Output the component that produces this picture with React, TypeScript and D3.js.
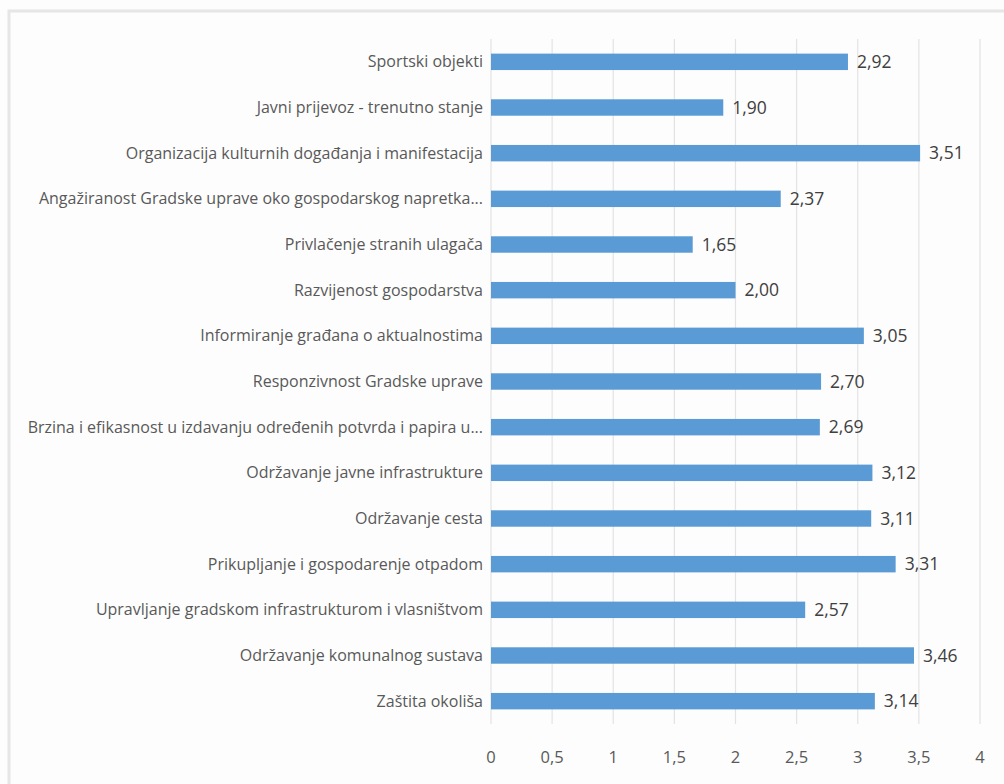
import * as React from "react";
import * as d3 from "d3";

const categories = [
  "Sportski objekti",
  "Javni prijevoz - trenutno stanje",
  "Organizacija kulturnih događanja i manifestacija",
  "Angažiranost Gradske uprave oko gospodarskog napretka...",
  "Privlačenje stranih ulagača",
  "Razvijenost gospodarstva",
  "Informiranje građana o aktualnostima",
  "Responzivnost Gradske uprave",
  "Brzina i efikasnost u izdavanju određenih potvrda i papira u...",
  "Održavanje javne infrastrukture",
  "Održavanje cesta",
  "Prikupljanje i gospodarenje otpadom",
  "Upravljanje gradskom infrastrukturom i vlasništvom",
  "Održavanje komunalnog sustava",
  "Zaštita okoliša",
];
const values = [2.92, 1.9, 3.51, 2.37, 1.65, 2.0, 3.05, 2.7, 2.69, 3.12, 3.11, 3.31, 2.57, 3.46, 3.14];
const xTicks = [0, 0.5, 1, 1.5, 2, 2.5, 3, 3.5, 4];

const W = 1004;
const H = 784;
const margin = { top: 39, right: 24, bottom: 60, left: 491 };
const FONT = "'Open Sans', sans-serif";

const fmt = (v: number, d: number) => v.toFixed(d).replace(".", ",");

export default function App() {
  const x = d3.scaleLinear().domain([0, 4]).range([margin.left, W - margin.right]);
  const y = d3
    .scaleBand<string>()
    .domain(categories)
    .range([margin.top, H - margin.bottom])
    .paddingInner(0.64)
    .paddingOuter(0.32);
  const plotBottom = H - margin.bottom;

  return (
    <svg width={W} height={H} style={{ position: "absolute", left: 0, top: 0, background: "#fdfdfd" }}>
      <rect x={9} y={11} width={W} height={H} fill="#fdfdfd" stroke="#e6e6e6" strokeWidth={3} />
      {xTicks.map((t) => (
        <line key={t} x1={x(t)} x2={x(t)} y1={margin.top} y2={plotBottom} stroke="#e3e3e3" strokeWidth={1.2} />
      ))}
      {categories.map((c, i) => {
        const yc = (y(c) as number) + y.bandwidth() / 2;
        return (
          <g key={c}>
            <rect x={x(0)} y={y(c)} width={x(values[i]) - x(0)} height={y.bandwidth()} fill="#5b9bd5" />
            <text
              x={x(0) - 8}
              y={yc}
              dy="0.35em"
              textAnchor="end"
              fontFamily={FONT}
              fontSize={16}
              fill="#595959"
            >
              {c}
            </text>
            <text x={x(values[i]) + 9} y={yc} dy="0.35em" fontFamily={FONT} fontSize={17.5} fill="#404040">
              {fmt(values[i], 2)}
            </text>
          </g>
        );
      })}
      {xTicks.map((t) => (
        <text key={t} x={x(t)} y={757} dy="0.35em" textAnchor="middle" fontFamily={FONT} fontSize={16.5} fill="#595959">
          {t % 1 === 0 ? String(t) : fmt(t, 1)}
        </text>
      ))}
    </svg>
  );
}
